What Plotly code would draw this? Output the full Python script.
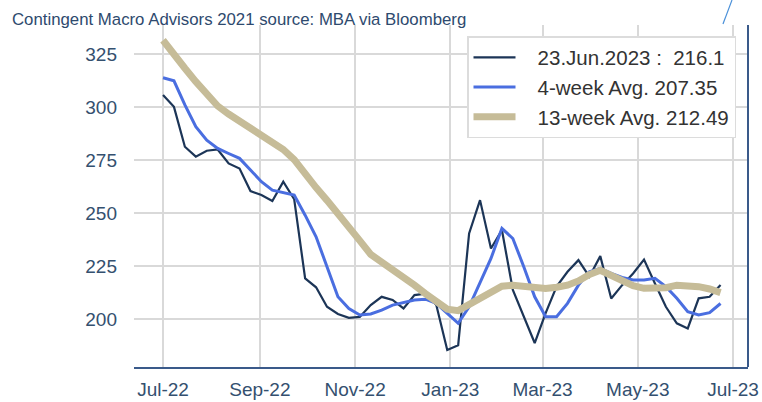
import plotly.graph_objects as go

dates = [
    "2022-07-01", "2022-07-08", "2022-07-15", "2022-07-22", "2022-07-29",
    "2022-08-05", "2022-08-12", "2022-08-19", "2022-08-26",
    "2022-09-02", "2022-09-09", "2022-09-16", "2022-09-23", "2022-09-30",
    "2022-10-07", "2022-10-14", "2022-10-21", "2022-10-28",
    "2022-11-04", "2022-11-11", "2022-11-18", "2022-11-25",
    "2022-12-02", "2022-12-09", "2022-12-16", "2022-12-23", "2022-12-30",
    "2023-01-06", "2023-01-13", "2023-01-20", "2023-01-27",
    "2023-02-03", "2023-02-10", "2023-02-17", "2023-02-24",
    "2023-03-03", "2023-03-10", "2023-03-17", "2023-03-24", "2023-03-31",
    "2023-04-07", "2023-04-14", "2023-04-21", "2023-04-28",
    "2023-05-05", "2023-05-12", "2023-05-19", "2023-05-26",
    "2023-06-02", "2023-06-09", "2023-06-16", "2023-06-23",
]

weekly_index = [
    305.7, 300.1, 281.3, 276.6, 279.4, 280.0, 273.4, 271.0, 260.4, 258.5,
    255.7, 264.8, 256.5, 219.2, 215.0, 205.8, 202.4, 200.6, 201.0, 206.6,
    210.5, 209.0, 205.0, 211.3, 212.0, 206.6, 185.4, 187.7, 240.4, 256.1,
    233.3, 242.0, 213.7, 201.0, 188.7, 202.8, 215.3, 222.3, 227.8, 220.0,
    229.7, 209.7, 216.0, 221.5, 228.1, 216.8, 205.8, 198.0, 195.6, 209.8,
    210.5, 216.1,
]

avg_4wk = [
    313.8, 312.4, 301.0, 290.7, 284.4, 280.5, 278.1, 275.8, 270.3, 264.8,
    260.8, 259.6, 258.5, 249.0, 238.8, 224.7, 210.5, 205.0, 201.9, 202.4,
    204.2, 206.6, 207.7, 209.0, 209.4, 207.4, 202.7, 198.0, 205.8, 216.8,
    228.6, 242.8, 238.0, 224.7, 210.5, 201.1, 201.1, 207.4, 216.0, 222.3,
    223.9, 221.6, 219.6, 218.4, 218.4, 219.2, 215.3, 209.8, 203.5, 201.9,
    203.0, 207.35,
]

avg_13wk = [
    331.5, 325.5, 318.3, 312.0, 306.0, 300.5, 296.7, 293.3, 289.9, 287.3,
    284.0, 280.0, 275.2, 268.2, 262.0, 256.0, 250.0, 243.5, 237.0, 230.5,
    227.0, 223.5, 219.8, 216.0, 212.0, 208.2, 204.7, 204.0, 207.0, 209.8,
    212.5, 215.5, 216.0, 215.2, 214.6, 214.4, 215.0, 216.0, 218.0, 221.0,
    223.0, 220.5, 218.0, 215.8, 214.5, 214.4, 214.8, 216.0, 215.7, 215.3,
    214.2, 212.49,
]

series_names = [
    "\u00a0\u00a0\u00a023.Jun.2023 :\u00a0\u00a0216.1",
    "\u00a0\u00a0\u00a04-week Avg. 207.35",
    "\u00a0\u00a0\u00a013-week Avg. 212.49",
]

title_text = "Contingent Macro Advisors 2021 source: MBA via Bloomberg"

FONT = "Liberation Sans, Arial, sans-serif"
TICK_COLOR = "#34506f"

fig = go.Figure()
fig.add_trace(go.Scatter(x=dates, y=weekly_index, mode="lines", name=series_names[0],
                         line=dict(color="#1c3557", width=2.2)))
fig.add_trace(go.Scatter(x=dates, y=avg_4wk, mode="lines", name=series_names[1],
                         line=dict(color="#4a6ee0", width=3)))
fig.add_trace(go.Scatter(x=dates, y=avg_13wk, mode="lines", name=series_names[2],
                         line=dict(color="#c6bc98", width=7)))

fig.update_layout(
    width=762, height=402,
    margin=dict(l=134, r=14, t=25, b=35, autoexpand=False),
    paper_bgcolor="white", plot_bgcolor="white",
    font=dict(family=FONT, color=TICK_COLOR),
    title=dict(text=title_text, x=12 / 762, xanchor="left", xref="container",
               y=1 - 19 / 402, yanchor="middle", yref="container",
               font=dict(size=16.8, color="#2e4a6e", family=FONT)),
    showlegend=True,
    legend=dict(x=(467 - 134) / 614, y=(367 - 36) / 342, xanchor="left", yanchor="top",
                bgcolor="white", bordercolor="#dcdcdc", borderwidth=1.5,
                font=dict(size=20.5, color="#333333", family=FONT),
                itemwidth=42),
    xaxis=dict(type="date", range=["2022-06-12 10:00", "2023-07-10 14:00"],
               tick0="2022-07-01", dtick="M2", tickformat="%b-%y",
               showgrid=True, gridcolor="#d9d9d9", gridwidth=1.5,
               showline=True, linecolor="#3a5a8a", linewidth=2,
               ticks="", ticklabelstandoff=4, automargin=False,
               tickfont=dict(size=19, color=TICK_COLOR), zeroline=False),
    yaxis=dict(range=[177.4, 338.7], tick0=200, dtick=25,
               showgrid=True, gridcolor="#d9d9d9", gridwidth=1.5,
               showline=False, ticks="", ticklabelstandoff=16, automargin=False,
               tickfont=dict(size=19, color=TICK_COLOR), zeroline=False),
    shapes=[
        dict(type="line", xref="paper", yref="paper", x0=1, x1=1, y0=0, y1=1,
             line=dict(color="#3a5a8a", width=2)),
        dict(type="line", xref="paper", yref="paper",
             x0=(723 - 134) / 614, y0=(367 - 24) / 342,
             x1=(732 - 134) / 614, y1=(367 - 0) / 342,
             line=dict(color="#4a90d9", width=1.2)),
    ],
)

fig.write_html(
    "out.html",
    config={"displayModeBar": False},
    post_script="document.body.style.margin='0';document.body.style.padding='0';"
                "document.documentElement.style.overflow='hidden';",
)
